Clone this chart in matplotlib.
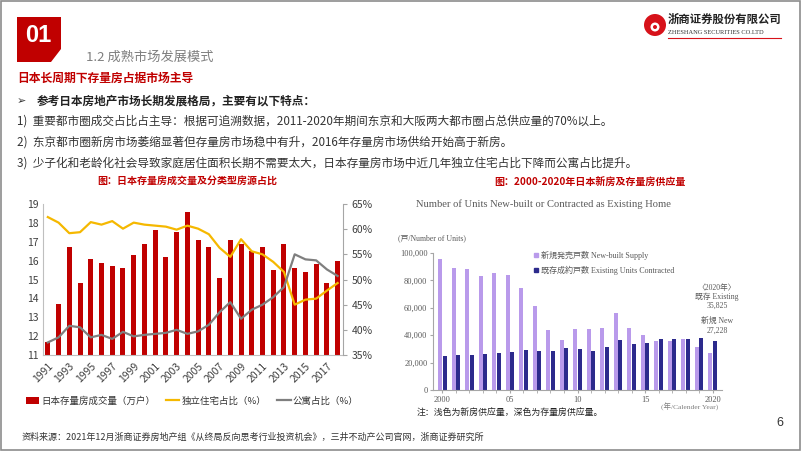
import matplotlib
matplotlib.use("Agg")
import matplotlib.pyplot as plt
from matplotlib.patches import Polygon, Rectangle, Ellipse
from matplotlib.lines import Line2D
from matplotlib.ticker import FuncFormatter

plt.rcParams['font.family'] = ['Noto Sans CJK SC', 'DejaVu Sans']

# left chart: Japan existing home transactions and type share
years_left = list(range(1991, 2019))
volume = [11.7, 13.7, 16.7, 14.8, 16.1, 15.9, 15.7, 15.6, 16.3, 16.9,
          17.6, 16.2, 17.5, 18.6, 17.1, 16.7, 15.1, 17.1, 16.9, 16.5,
          16.7, 15.5, 16.9, 15.6, 15.4, 15.8, 14.8, 16.0]
detached = [62.4, 61.3, 59.2, 59.4, 61.4, 60.9, 61.6, 60.1, 61.3, 60.9,
            60.7, 60.5, 59.9, 60.7, 60.1, 59.0, 56.3, 54.5, 58.0, 55.6,
            55.0, 53.5, 51.5, 45.0, 46.0, 46.2, 47.8, 49.3]
condo = [37.5, 38.5, 40.8, 40.5, 38.5, 39.0, 38.2, 39.6, 38.7, 39.0,
         39.2, 39.4, 40.0, 39.2, 39.7, 41.0, 43.5, 45.5, 42.2, 44.0,
         45.0, 46.5, 48.5, 55.0, 54.0, 53.8, 52.0, 50.7]

# right chart: new-built supply vs existing units contracted (units)
years_right = list(range(2000, 2021))
new_built = [95600, 89000, 88300, 83200, 85400, 84000, 74500, 61000, 43700, 36400,
             44500, 44500, 45600, 56500, 45000, 40400, 35800, 35900, 37100, 31200, 27228]
existing = [25100, 25800, 25300, 26000, 26800, 28000, 29200, 28300, 28500, 31000,
            30100, 28700, 31200, 36400, 33700, 34500, 37000, 37200, 37200, 38100, 35825]

W, H = 802, 451
RED = '#C00000'


def px(x, y):
    return x / W, 1 - y / H


def box(x0, y0, x1, y1):
    return [x0 / W, 1 - y1 / H, (x1 - x0) / W, (y1 - y0) / H]


fig = plt.figure(figsize=(W / 100, H / 100), dpi=100)

# slide frame
fig.patches.append(Rectangle((0.001, 0.002), 0.997, 0.996, transform=fig.transFigure,
                             fill=False, edgecolor='#8C8C8C', linewidth=1.2))

# header
corner = [px(17, 17), px(61, 17), px(61, 49), px(51, 62), px(17, 62)]
fig.patches.append(Polygon(corner, closed=True, transform=fig.transFigure,
                           facecolor=RED, edgecolor='none'))
fig.text(*px(38, 35), '01', color='white', fontsize=17, fontweight='bold',
         ha='center', va='center', family=['Liberation Sans', 'DejaVu Sans'])
fig.text(*px(86, 57), '1.2 成熟市场发展模式', color='#7F7F7F', fontsize=9.5, va='center')
fig.text(*px(17, 78), '日本长周期下存量房占据市场主导', color=RED, fontsize=8.5,
         fontweight='bold', va='center')

# logo
fig.patches.append(Ellipse(px(655, 25), 22 / W, 22 / H, transform=fig.transFigure,
                           facecolor='#D7121A', edgecolor='none'))
fig.patches.append(Ellipse(px(655, 27), 9 / W, 9 / H, transform=fig.transFigure,
                           facecolor='white', edgecolor='none'))
fig.patches.append(Ellipse(px(655, 27), 4 / W, 4 / H, transform=fig.transFigure,
                           facecolor='#D7121A', edgecolor='none'))
fig.text(*px(668, 19), '浙商证券股份有限公司', color='#222222', fontsize=8.2,
         fontweight='bold', va='center')
fig.text(*px(668, 32), 'ZHESHANG SECURITIES CO.LTD', color='#333333', fontsize=4.6,
         va='center', family=['Liberation Serif'])
fig.add_artist(Line2D([668 / W, 781 / W], [1 - 38 / H, 1 - 38 / H], color='#D7121A', lw=0.8))

# bullet text
fig.text(*px(17, 101), '➢', color='#333333', fontsize=8, va='center', family=['DejaVu Sans'])
fig.text(*px(37, 101), '参考日本房地产市场长期发展格局，主要有以下特点：', color='#222222',
         fontsize=8.4, fontweight='bold', va='center')
lines = ['1)  重要都市圈成交占比占主导：根据可追溯数据，2011-2020年期间东京和大阪两大都市圈占总供应量的70%以上。',
         '2)  东京都市圈新房市场萎缩显著但存量房市场稳中有升，2016年存量房市场供给开始高于新房。',
         '3)  少子化和老龄化社会导致家庭居住面积长期不需要太大，日本存量房市场中近几年独立住宅占比下降而公寓占比提升。']
for i, t in enumerate(lines):
    fig.text(*px(17, 121 + 21 * i), t, color='#333333', fontsize=8.4, va='center')

# ---------- left chart ----------
fig.text(*px(187, 181), '图：日本存量房成交量及分类型房源占比', color=RED, fontsize=7.2,
         fontweight='bold', ha='center', va='center')
ax1 = fig.add_axes(box(43, 204, 343, 355))
idx = list(range(len(years_left)))
ax1.bar(idx, volume, width=0.47, color=RED, zorder=2)
ax1.set_ylim(11, 19)
ax1.set_xlim(-0.45, len(idx) - 0.5)
ax1.set_yticks(range(11, 20))
ax1.set_xticks(idx[::2])
ax1.set_xticklabels([str(y) for y in years_left[::2]], rotation=45, ha='right',
                    rotation_mode='anchor')
ax1.tick_params(axis='both', labelsize=7.5, colors='#404040', length=0, pad=3)
ax1.tick_params(axis='x', pad=4)
for s in ['top', 'right']:
    ax1.spines[s].set_visible(False)
ax1.spines['left'].set_color('#BFBFBF')
ax1.spines['bottom'].set_color('#BFBFBF')

ax2 = ax1.twinx()
ax2.plot(idx, detached, color='#F5B800', lw=1.6, zorder=3)
ax2.plot(idx, condo, color='#7F7F7F', lw=1.6, zorder=3)
ax2.set_ylim(35, 65)
ax2.set_yticks(range(35, 66, 5))
ax2.yaxis.set_major_formatter(FuncFormatter(lambda v, p: f'{int(v)}%'))
ax2.tick_params(axis='y', labelsize=7.5, colors='#404040', length=3, pad=3)
ax2.tick_params(axis='y', color='#A6A6A6')
for s in ['top', 'left', 'bottom']:
    ax2.spines[s].set_visible(False)
ax2.spines['right'].set_color('#A6A6A6')

handles = [Rectangle((0, 0), 1, 1, facecolor=RED),
           Line2D([], [], color='#F5B800', lw=1.6),
           Line2D([], [], color='#7F7F7F', lw=1.6)]
fig.legend(handles, ['日本存量房成交量（万户）', '独立住宅占比（%）', '公寓占比（%）'],
           loc='center', bbox_to_anchor=px(192, 401), ncol=3, frameon=False,
           fontsize=6.8, handlelength=1.4, handletextpad=0.2, columnspacing=1.2,
           labelcolor='#333333')

# ---------- right chart ----------
SERIF = ['Liberation Serif', 'Noto Sans CJK JP']
fig.text(*px(590, 182), '图：2000-2020年日本新房及存量房供应量', color=RED, fontsize=7.2,
         fontweight='bold', ha='center', va='center')
fig.text(*px(416, 204), 'Number of Units New-built or Contracted as Existing Home',
         color='#595959', fontsize=7.6, va='center', family=SERIF)
fig.text(*px(398, 238), '(戸/Number of Units)', color='#595959', fontsize=5.6,
         va='center', family=SERIF)

ax3 = fig.add_axes(box(433, 253, 722, 390))
ax3.bar([y - 0.16 for y in years_right], new_built, width=0.3, color='#B99AEB', zorder=2)
ax3.bar([y + 0.16 for y in years_right], existing, width=0.28, color='#2C2A8C', zorder=2)
ax3.set_ylim(0, 100000)
ax3.set_xlim(1999.3, 2020.7)
ax3.set_yticks(range(0, 100001, 20000))
ax3.yaxis.set_major_formatter(FuncFormatter(lambda v, p: f'{int(v):,}'))
ax3.set_xticks([2000, 2005, 2010, 2015, 2020])
ax3.set_xticklabels(['2000', '05', '10', '15', '2020'])
ax3.set_xticks(years_right, minor=True)
for lab in ax3.get_xticklabels() + ax3.get_yticklabels():
    lab.set_family(SERIF)
ax3.tick_params(axis='both', which='both', labelsize=6, colors='#595959', length=2,
                direction='out', pad=2)
ax3.tick_params(axis='both', which='both', color='#A6A6A6')
for s in ['top', 'right']:
    ax3.spines[s].set_visible(False)
ax3.spines['left'].set_color('#A6A6A6')
ax3.spines['bottom'].set_color('#A6A6A6')

fig.add_artist(Line2D([536 / W], [1 - 255 / H], marker='s', ms=3, color='#B99AEB', lw=0))
fig.add_artist(Line2D([536 / W], [1 - 270 / H], marker='s', ms=3, color='#2C2A8C', lw=0))
fig.text(*px(541, 255), '新規発売戸数 New-built Supply', color='#595959', fontsize=5.8,
         va='center', family=SERIF)
fig.text(*px(541, 270), '既存成約戸数 Existing Units Contracted', color='#595959', fontsize=5.8,
         va='center', family=SERIF)

notes = [('〈2020年〉', 288), ('既存 Existing', 297), (f'{existing[-1]:,}', 306),
         ('新規 New', 321), (f'{new_built[-1]:,}', 331)]
for t, yy in notes:
    fig.text(*px(717, yy), t, color='#595959', fontsize=5.6, ha='center', va='center',
             family=SERIF)
fig.text(*px(690, 407), '(年/Calender Year)', color='#7F7F7F', fontsize=5.4,
         ha='center', va='center', family=SERIF)
fig.text(*px(417, 413), '注：浅色为新房供应量，深色为存量房供应量。', color='#222222',
         fontsize=6.4, va='center')

# footer
fig.text(*px(780, 423), '6', color='#333333', fontsize=9, ha='center', va='center',
         family=['Liberation Sans'])
fig.text(*px(22, 437), '资料来源：2021年12月浙商证券房地产组《从终局反向思考行业投资机会》，'
         '三井不动产公司官网，浙商证券研究所', color='#333333', fontsize=6.5, va='center')

fig.savefig('out.png', dpi=100)
